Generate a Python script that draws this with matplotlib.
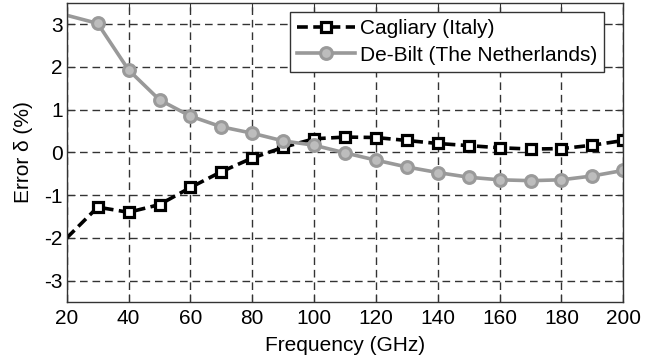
import matplotlib
matplotlib.use("Agg")
import matplotlib.pyplot as plt

freq = [20, 30, 40, 50, 60, 70, 80, 90, 100, 110, 120, 130, 140, 150, 160, 170, 180, 190, 200]
cagliari = [-2.0, -1.28, -1.4, -1.22, -0.82, -0.45, -0.13, 0.12, 0.32, 0.36, 0.35, 0.28, 0.21, 0.16, 0.11, 0.08, 0.09, 0.17, 0.28]
debilt = [3.21, 3.02, 1.93, 1.23, 0.85, 0.6, 0.45, 0.27, 0.17, -0.01, -0.18, -0.34, -0.47, -0.58, -0.64, -0.66, -0.64, -0.55, -0.42]
xticks = [20, 40, 60, 80, 100, 120, 140, 160, 180, 200]
yticks = [-3, -2, -1, 0, 1, 2, 3]

plt.rcParams['font.family'] = ['Liberation Sans', 'DejaVu Sans']
plt.rcParams['font.size'] = 15
plt.rcParams['axes.unicode_minus'] = False

fig = plt.figure(figsize=(6.61, 3.63), dpi=100)
ax = fig.add_axes([0.101, 0.168, 0.842, 0.824])

mk = list(range(1, len(freq)))
ax.plot(freq, cagliari, color='black', linestyle=(0, (3.0, 1.5)), linewidth=2.6,
        marker='s', markersize=7.5, markerfacecolor='white', markeredgecolor='black',
        markeredgewidth=2.3, markevery=mk, label='Cagliary (Italy)')
ax.plot(freq, debilt, color='#999999', linestyle='-', linewidth=2.6,
        marker='o', markersize=8.5, markerfacecolor='#bdbdbd', markeredgecolor='#9a9a9a',
        markeredgewidth=2.2, markevery=mk, label='De-Bilt (The Netherlands)')

ax.set_xlim(20, 200)
ax.set_ylim(-3.5, 3.5)
ax.set_xticks(xticks)
ax.set_yticks(yticks)
ax.grid(True, color='#333333', linestyle=(0, (5.5, 3.5)), linewidth=1.0)
ax.tick_params(direction='in', top=True, right=True, length=6, color='#333333', labelsize=15)
ax.tick_params(axis='y', pad=3)
ax.tick_params(axis='x', pad=5)
for s in ax.spines.values():
    s.set_color('#333333')
    s.set_linewidth(1.0)

ax.set_xlabel('Frequency (GHz)', fontsize=15, labelpad=6)
ax.set_ylabel('Error δ (%)', fontsize=15, labelpad=8)

leg = ax.legend(loc='upper right', bbox_to_anchor=(0.966, 0.971), fancybox=False, framealpha=1,
                edgecolor='#333333', fontsize=15, handlelength=2.75, borderpad=0.35,
                labelspacing=0.38, handletextpad=0.25, borderaxespad=0)
leg.get_frame().set_linewidth(1.0)

fig.savefig('out.png', dpi=100)
